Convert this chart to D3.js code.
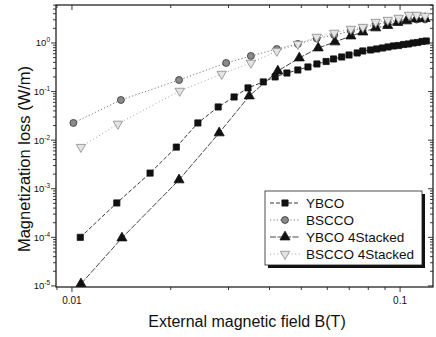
<!DOCTYPE html>
<html><head><meta charset="utf-8">
<script src="https://cdn.jsdelivr.net/npm/d3@7"></script>
<style>body{margin:0;background:#fff}svg{display:block;font-family:"Liberation Sans",Arial,sans-serif}</style>
</head><body><svg id="c" width="436" height="337"></svg>
<script>
// ---- data ----
const ybcoB = [0.0106,0.0137,0.0173,0.0208,0.0242,0.0279,0.0312,0.0344,0.0383,0.0416,0.0452,0.0488,0.0524,0.0558,0.0595,0.0627,0.0664,0.0699,0.0740,0.0770,0.0813,0.0849,0.0884,0.0919,0.0955,0.0990,0.1025,0.1060,0.1096,0.1131,0.1167,0.1202];
const ybcoLoss = [1.0e-4,5.1e-4,2.1e-3,7.2e-3,0.0226,0.0482,0.0774,0.119,0.158,0.200,0.241,0.278,0.321,0.370,0.416,0.469,0.515,0.566,0.623,0.685,0.718,0.753,0.789,0.828,0.868,0.888,0.931,0.954,1.0,1.024,1.074,1.099];
const bsccoB = [0.0101,0.0141,0.0212,0.0295,0.0351,0.0421,0.0488,0.0557,0.0630,0.0708,0.0770,0.0843,0.0917,0.0990,0.1058,0.1124,0.1192];
const bsccoLoss = [0.0226,0.0671,0.173,0.388,0.540,0.753,0.954,1.24,1.46,1.77,2.04,2.40,2.70,2.97,3.04,3.04,3.04];
const ybco4B = [0.01065,0.0142,0.0212,0.0281,0.0347,0.0424,0.0493,0.0563,0.0633,0.0708,0.0770,0.0843,0.0917,0.0984,0.1048,0.1120,0.1192];
const ybco4Loss = [1.1e-5,9.7e-5,1.52e-3,0.0141,0.0811,0.265,0.491,0.789,1.05,1.39,1.68,2.04,2.29,2.64,2.84,3.12,3.19];
const bscco4B = [0.01065,0.0138,0.0213,0.0286,0.0351,0.0421,0.0488,0.0557,0.0630,0.0708,0.0770,0.0843,0.0917,0.0990,0.1065,0.1124,0.1192];
const bscco4Loss = [7.2e-3,0.0216,0.103,0.230,0.388,0.685,0.954,1.33,1.61,1.94,2.13,2.70,2.97,3.27,3.77,3.77,3.59];
const seriesNames = ["YBCO","BSCCO","YBCO 4Stacked","BSCCO 4Stacked"];
const xTickValues = [0.01,0.1];
const xTickLabels = ["0.01","0.1"];
const yTickExps = [0,-1,-2,-3,-4,-5];
const xTitle = "External magnetic field B(T)";
const yTitle = "Magnetization loss (W/m)";

// ---- layout ----
const L=56, R=433, T=5, B=287;
const svg=d3.select("#c");
const x=d3.scaleLog().domain([0.00894,0.126]).range([L,R]);
const y=d3.scaleLog().domain([9.5e-6,6.05]).range([B,T]);

const series=[
 {name:seriesNames[0],xs:ybcoB,ys:ybcoLoss,dash:"4,2",stroke:"#222",sym:d3.symbolSquare,size:38,fill:"#111",sc:"#111",rot:0},
 {name:seriesNames[1],xs:bsccoB,ys:bsccoLoss,dash:"1.2,2.2",stroke:"#666",sym:d3.symbolCircle,size:38,fill:"#8a8a8a",sc:"#333",rot:0},
 {name:seriesNames[2],xs:ybco4B,ys:ybco4Loss,dash:"6,1.5",stroke:"#333",sym:d3.symbolTriangle,size:44,fill:"#111",sc:"#111",rot:0},
 {name:seriesNames[3],xs:bscco4B,ys:bscco4Loss,dash:"1,2.6",stroke:"#999",sym:d3.symbolTriangle,size:38,fill:"#e4e4e4",sc:"#888",rot:180}
];

svg.append("defs").append("clipPath").attr("id","pc").append("rect").attr("x",L).attr("y",T).attr("width",R-L).attr("height",B-T);

// frame
svg.append("rect").attr("x",L).attr("y",T).attr("width",R-L).attr("height",B-T).attr("fill","none").attr("stroke","#111").attr("stroke-width",1.2);

// ticks
const g=svg.append("g").attr("stroke","#222").attr("stroke-width",0.9);
const xMinor=[];
for(let d=0.001; d<1; d*=10){for(let k=1;k<10;k++){const v=d*k; if(v>=x.domain()[0]&&v<=x.domain()[1]) xMinor.push(v);}}
xMinor.forEach(v=>{
  const major=xTickValues.some(t=>Math.abs(t-v)<1e-9);
  const len=major?5:3;
  const px=x(v);
  g.append("line").attr("x1",px).attr("x2",px).attr("y1",B).attr("y2",B+len);
  g.append("line").attr("x1",px).attr("x2",px).attr("y1",T).attr("y2",T+len);
});
const yMinor=[];
for(let e=-6;e<=1;e++){for(let k=1;k<10;k++){const v=k*Math.pow(10,e); if(v>=y.domain()[0]&&v<=y.domain()[1]) yMinor.push(v);}}
yMinor.forEach(v=>{
  const major=Math.abs(Math.log10(v)-Math.round(Math.log10(v)))<1e-9;
  const len=major?5:3;
  const py=y(v);
  g.append("line").attr("x1",L-len).attr("x2",L).attr("y1",py).attr("y2",py);
  g.append("line").attr("x1",R-len).attr("x2",R).attr("y1",py).attr("y2",py);
});

// tick labels
xTickValues.forEach((v,i)=>{
  svg.append("text").attr("x",x(v)).attr("y",B+17).attr("text-anchor","middle").attr("font-size",10).attr("fill","#111").text(xTickLabels[i]);
});
yTickExps.forEach(e=>{
  const t=svg.append("text").attr("x",L-6).attr("y",y(Math.pow(10,e))+3.5).attr("text-anchor","end").attr("font-size",9.5).attr("fill","#111");
  t.append("tspan").text("10");
  t.append("tspan").attr("dy",-4).attr("font-size",6.5).text(String(e));
});

// axis titles
svg.append("text").attr("x",247).attr("y",327).attr("text-anchor","middle").attr("font-size",16).attr("fill","#111").text(xTitle);
svg.append("text").attr("transform","translate(30,159) rotate(-90)").attr("text-anchor","middle").attr("font-size",16.5).attr("fill","#111").text(yTitle);

// series
const pg=svg.append("g").attr("clip-path","url(#pc)");
const line=d3.line().x(d=>x(d[0])).y(d=>y(d[1]));
series.forEach(s=>{
  const pts=s.xs.map((v,i)=>[v,s.ys[i]]);
  pg.append("path").attr("d",line(pts)).attr("fill","none").attr("stroke",s.stroke).attr("stroke-width",0.9).attr("stroke-dasharray",s.dash);
});
series.forEach(s=>{
  const pts=s.xs.map((v,i)=>[v,s.ys[i]]);
  pg.selectAll(null).data(pts).enter().append("path")
    .attr("d",d3.symbol().type(s.sym).size(s.size))
    .attr("transform",d=>"translate("+x(d[0])+","+y(d[1])+") rotate("+s.rot+")")
    .attr("fill",s.fill).attr("stroke",s.sc).attr("stroke-width",0.8);
});

// legend
const lx=265, ly=191, lw=157, lh=74;
svg.append("rect").attr("x",lx+3).attr("y",ly+3).attr("width",lw).attr("height",lh).attr("fill","#111");
svg.append("rect").attr("x",lx).attr("y",ly).attr("width",lw).attr("height",lh).attr("fill","#fff").attr("stroke","#222").attr("stroke-width",0.8);
series.forEach((s,i)=>{
  const yy=ly+12+i*17;
  svg.append("line").attr("x1",lx+5).attr("x2",lx+35).attr("y1",yy).attr("y2",yy).attr("stroke",s.stroke).attr("stroke-width",0.9).attr("stroke-dasharray",s.dash);
  svg.append("path").attr("d",d3.symbol().type(s.sym).size(s.size)).attr("transform","translate("+(lx+20)+","+yy+") rotate("+s.rot+")").attr("fill",s.fill).attr("stroke",s.sc).attr("stroke-width",0.8);
  svg.append("text").attr("x",lx+41).attr("y",yy+5).attr("font-size",13.5).attr("fill","#111").text(s.name);
});
</script></body></html>
